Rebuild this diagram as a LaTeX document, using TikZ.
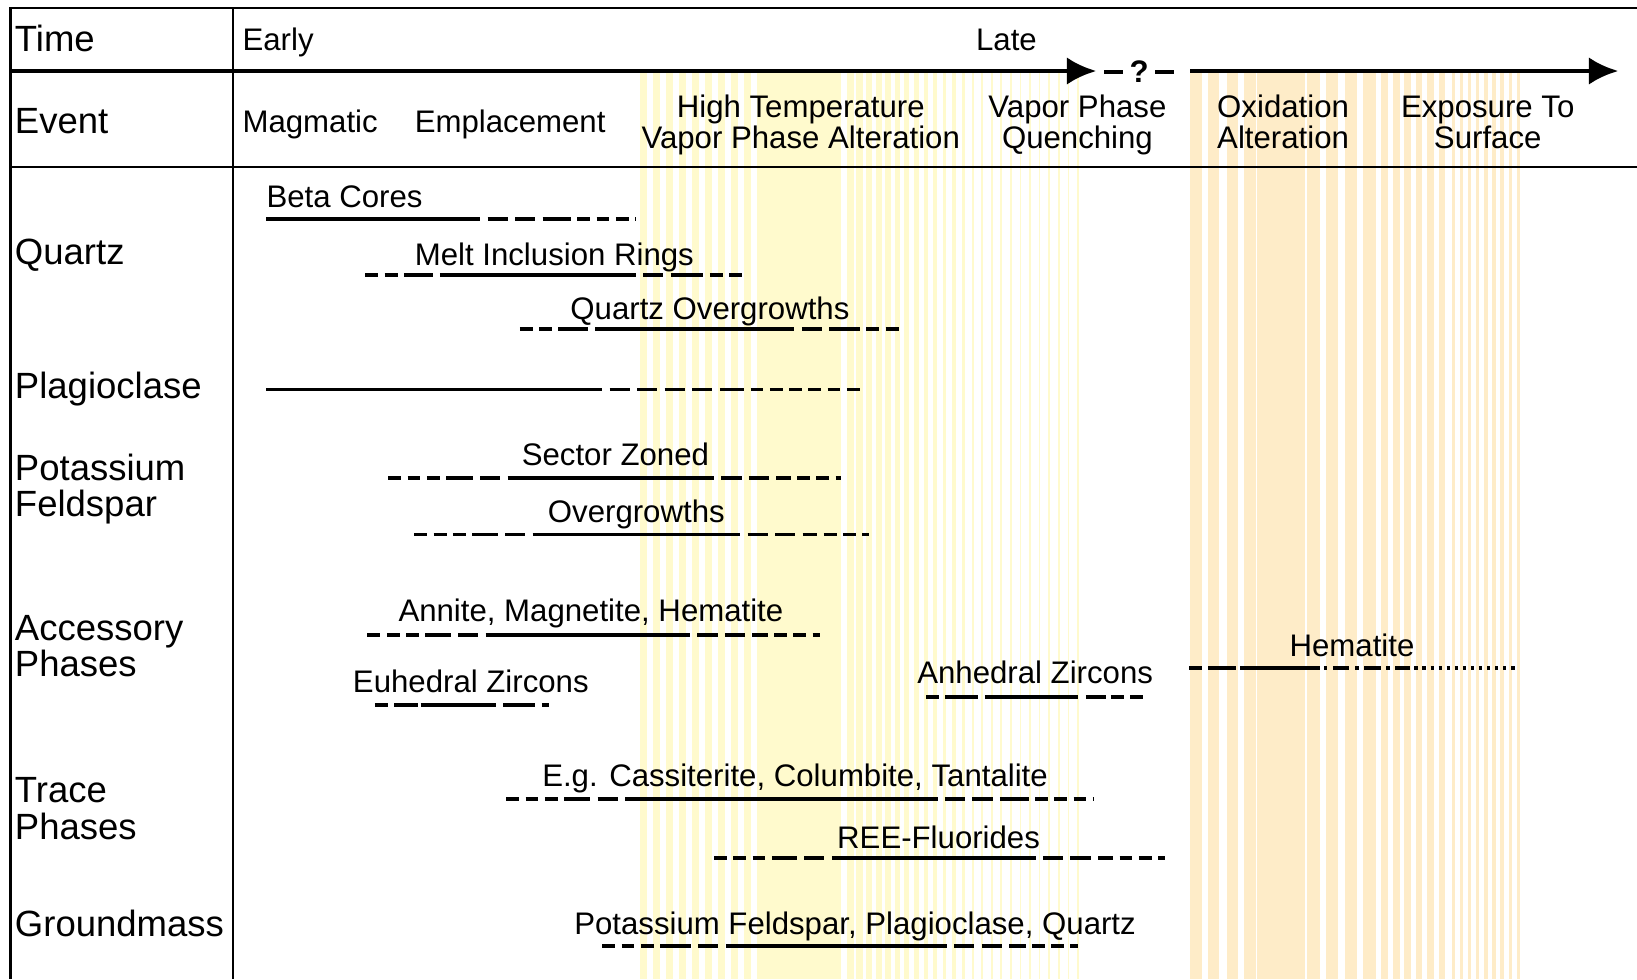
\documentclass[tikz,border=0pt]{standalone}
\usepackage{fontspec}
\setmainfont{Liberation Sans}
\usetikzlibrary{arrows.meta,positioning}
\definecolor{vaporyellow}{RGB}{255,250,205}
\definecolor{oxidorange}{RGB}{254,236,200}
\tikzset{
  frame/.style={line width=1.2pt},
  timeline/.style={line width=2.4pt, -{Latex[length=16pt,width=15pt]}},
  axisdash/.style={line width=2.4pt},
  rowlabel/.style={anchor=base west, inner sep=0pt, align=left,
    font=\fontsize{19.9}{19.9}\selectfont},
  hdlabel/.style={anchor=base, inner sep=0pt, align=center,
    font=\fontsize{17}{17}\selectfont},
  barlabel/.style={anchor=base, inner sep=0pt, font=\fontsize{17}{17}\selectfont},
  barline/.style={line width=2.1pt},
  coarsedash/.style={line width=2.1pt, dash pattern=on 11pt off 4pt},
  finedash/.style={line width=2.1pt, dash pattern=on 7pt off 3.5pt},
  dotdash/.style={line width=2.1pt, dash pattern=on 1.8pt off 2.6pt},
}
% y, start, solid from, solid to, end
\newcommand{\phasebar}[5]{%
  \draw[finedash] (#2,#1) -- ({(#2+#3)/2},#1);
  \draw[coarsedash] ({(#2+#3)/2},#1) -- (#3,#1);
  \draw[barline] (#3,#1) -- (#4,#1);
  \draw[coarsedash] ({#4+7},#1) -- ({(#4+#5)/2},#1);
  \draw[finedash] ({(#4+#5)/2},#1) -- (#5,#1);
}

\begin{document}
\begin{tikzpicture}[x=0.02cm,y=-0.02cm]
  \useasboundingbox (0,0) rectangle (1568,938);
  % shaded bands
  \foreach \x in {613,625.5,...,715}
    \fill[vaporyellow] (\x,70) rectangle ++(6.5,868);
  \fill[vaporyellow] (725,70) rectangle (806,938);
  \foreach \i [evaluate=\i as \w using {max(1.5,7-0.35*\i)}] in {0,...,24}
    \fill[vaporyellow] ({811+9.2*\i},70) rectangle ++(\w,868);
  \foreach \x in {1140,1157,1175,1192}
    \fill[oxidorange] (\x,70) rectangle ++(11,868);
  \fill[oxidorange] (1204,70) rectangle (1250,938);
  \foreach \x in {1252,1270,1288,1306}
    \fill[oxidorange] (\x,70) rectangle ++(12,868);
  \foreach \x in {1323,1334,...,1380}
    \fill[oxidorange] (\x,70) rectangle ++(6.5,868);
  \foreach \x in {1391,1398.7,...,1454}
    \fill[oxidorange] (\x,70) rectangle ++(3,868);

  % table
  \draw[frame] (1568,8) -- (10,8) -- (10,938);
  \draw[frame] (223,8) -- (223,938);
  \draw[frame] (10,160) -- (1568,160);

  \coordinate (t0) at (10,68);
  \coordinate (t1) at (1050,68);
  \coordinate (t2) at (1140,68);
  \coordinate (t3) at (1550,68);
  \draw[timeline] (t0) -- (t1);
  \draw[timeline] (t2) -- (t3);
  \node[font=\fontsize{17}{17}\selectfont\bfseries, inner sep=3.5pt] (qmark) at (1091,69) {?};
  \draw[axisdash] (qmark.west) -- ++(-18,0);
  \draw[axisdash] (qmark.east) -- ++(18,0);

  \node[rowlabel] (time) at (14,49.5) {Time};
  \node[rowlabel] (event) at (14,128) {Event};
  \node[hdlabel, anchor=base west] (early) at (232,48) {Early};
  \node[hdlabel] (late) at (964,48) {Late};
  \node[hdlabel, anchor=base west] (magmatic) at (232,127) {Magmatic};
  \node[hdlabel, anchor=base west] (emplace) at (397,127) {Emplacement};
  \node[hdlabel] (hitemp) at (767,142) {High Temperature\\Vapor Phase Alteration};
  \node[hdlabel] (quench) at (1032,142) {Vapor Phase\\Quenching};
  \node[hdlabel] (oxid) at (1229,142) {Oxidation\\Alteration};
  \node[hdlabel] (expose) at (1425,142) {Exposure To\\Surface};

  \node[rowlabel] (quartz) at (14,253) {Quartz};
  \node[rowlabel] (plag) at (14,382) {Plagioclase};
  \node[rowlabel] (kspar) at (14,495) {Potassium\\Feldspar};
  \node[rowlabel] (access) at (14,648) {Accessory\\Phases};
  \node[rowlabel] (trace) at (14,804) {Trace\\Phases};
  \node[rowlabel] (gmass) at (14,897) {Groundmass};

  % bars
  \phasebar{210}{255}{255}{460}{609}
  \node[barlabel, anchor=base west] (beta) at (255,199) {Beta Cores};
  \phasebar{263}{350}{440}{609}{714}
  \node[barlabel] (melt) at (531,254) {Melt Inclusion Rings};
  \phasebar{315}{498}{590}{761}{862}
  \node[barlabel] (qover) at (680,306) {Quartz Overgrowths};
  \phasebar{373}{255}{255}{577}{824}
  \phasebar{458}{372}{495}{684}{806}
  \node[barlabel] (sector) at (589.5,446) {Sector Zoned};
  \phasebar{512}{397}{518}{709}{832}
  \node[barlabel] (kover) at (609.5,500) {Overgrowths};
  \phasebar{608}{352}{473}{661}{785}
  \node[barlabel] (annite) at (566,595) {Annite, Magnetite, Hematite};
  \phasebar{675}{359}{403}{475}{526}
  \node[barlabel] (euhed) at (451,663) {Euhedral Zircons};
  \phasebar{668}{887}{947}{1033}{1095}
  \node[barlabel] (anhed) at (991.5,655) {Anhedral Zircons};
  \draw[finedash] (1139,640) -- (1165,640);
  \draw[coarsedash] (1165,640) -- (1188,640);
  \draw[barline] (1188,640) -- (1264,640);
  \draw[line width=2.1pt, dash pattern=on 2pt off 3pt on 9pt off 3pt] (1268,640) -- (1347,640);
  \draw[dotdash] (1347,640) -- (1451,640);
  \node[barlabel] (hemat) at (1295,629) {Hematite};
  \phasebar{765}{485}{607}{898}{1048}
  \node[barlabel] (cassit) at (761.5,753) {E.g. Cassiterite, Columbite, Tantalite};
  \phasebar{822}{684}{804}{992}{1116}
  \node[barlabel] (ree) at (899,813) {REE-Fluorides};
  \phasebar{906}{577}{708}{907}{1033}
  \node[barlabel] (gmlist) at (819,895) {Potassium Feldspar, Plagioclase, Quartz};
\end{tikzpicture}
\end{document}
